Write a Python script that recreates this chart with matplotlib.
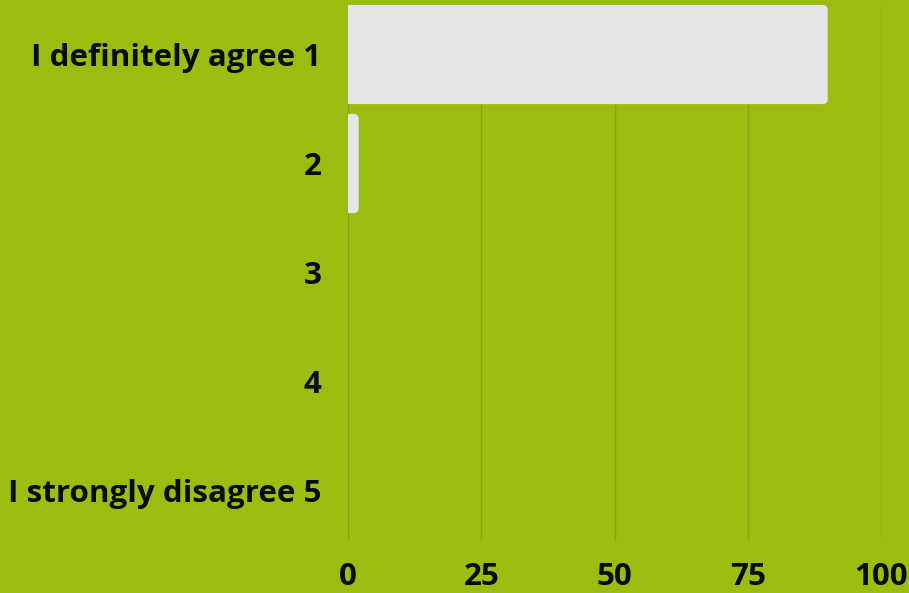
import matplotlib
matplotlib.use("Agg")
import matplotlib.pyplot as plt
from matplotlib.patches import FancyBboxPatch

categories = ["I definitely agree 1", "2", "3", "4", "I strongly disagree 5"]
values = [90, 2, 0, 0, 0]
xticks = [0, 25, 50, 75, 100]

BG = "#9abd0f"
GRID = "#86a70c"
BAR = "#e6e6e6"

plt.rcParams['font.family'] = ['Open Sans', 'DejaVu Sans']

fig = plt.figure(figsize=(9.09, 5.93), dpi=100, facecolor=BG)
ax = fig.add_axes([348/909, 1 - 545/593, (881-348)/909, 545/593])
ax.set_facecolor(BG)

ax.set_xlim(0, 100)
ax.set_ylim(len(categories) - 0.5, -0.5)

for x in xticks:
    ax.axvline(x, ymin=0.011, ymax=0.991, color=GRID, lw=1, zorder=0)

fig.canvas.draw()
px_per_x = ax.transData.transform((1, 0))[0] - ax.transData.transform((0, 0))[0]
px_per_y = abs(ax.transData.transform((0, 1))[1] - ax.transData.transform((0, 0))[1])
r_px = 5
rx = r_px / px_per_x
ry = r_px / px_per_y
height = 0.91
for i, v in enumerate(values):
    if v <= 0:
        continue
    p = FancyBboxPatch((-rx * 2, i - height / 2), v + rx * 2, height,
                       boxstyle=f"round,pad=0,rounding_size={rx}",
                       mutation_aspect=ry / rx,
                       facecolor=BAR, edgecolor="none", zorder=2)
    ax.add_patch(p)

FS = 22.6
ax.set_yticks(range(len(categories)))
ax.set_yticklabels(categories, fontsize=FS, fontweight='bold', color='#0a0a0a')
ax.set_xticks(xticks)
ax.set_xticklabels([str(t) for t in xticks], fontsize=FS, fontweight='bold', color='#0a0a0a')
ax.tick_params(axis='y', length=0, pad=19)
ax.tick_params(axis='x', length=0, pad=12)
for s in ax.spines.values():
    s.set_visible(False)

fig.savefig("out.png", dpi=100, facecolor=BG)
